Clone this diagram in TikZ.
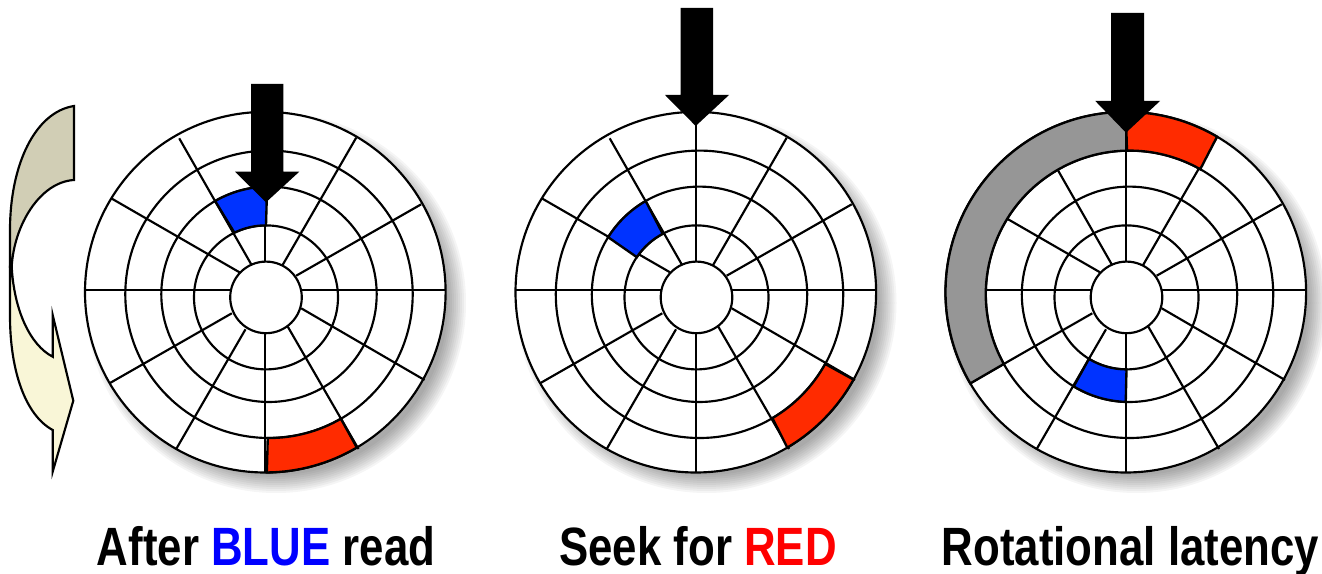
\documentclass[tikz,border=0pt]{standalone}
\usepackage{fontspec}
\setmainfont{Liberation Sans}
\usetikzlibrary{calc}
\definecolor{redsector}{HTML}{FF2B00}
\definecolor{bluesector}{HTML}{0033FF}
\definecolor{graysector}{HTML}{969696}
\definecolor{turnbeige}{HTML}{D1CEB5}
\definecolor{turncream}{HTML}{F9F6D7}

\begin{document}
\begin{tikzpicture}[x=0.02cm,y=-0.02cm,line width=0.043cm,line join=miter,
    sector/.style={draw,line width=0.047cm},
    headarrow/.style={fill=black,draw=none},
    caption/.style={anchor=base,xscale=0.812,font=\bfseries\fontsize{30.7}{36}\selectfont}]
  \useasboundingbox (0,0) rectangle (1322,574);

  \foreach \dx in {0,430.5,860.5}{
    \begin{scope}[shift={(\dx,0)}]
      \foreach \r in {190,188,...,172}
        \fill[black,opacity=0.04] (276,303) circle[radius=\r];
      \draw[fill=white] (265.3,292.2) circle[radius=180.3];
      \draw (269,294.3) circle[radius=143.7];
      \draw (269,294.3) circle[radius=107.7];
      \draw (266,297.4) circle[radius=72];
      \draw[fill=white] (266,297.4) circle[radius=35.8];
      \draw (265.2,112)--(265.2,262);
      \draw (179.2,138.3)--(251.2,264.3);
      \draw (111.2,198.3)--(239.5,272.3);
      \draw (356.2,137.7)--(282.2,265.7);
      \draw (421.2,204.3)--(296.2,275.7);
      \draw (84.5,290)--(230.5,290);
      \draw (301.8,290)--(445.2,290);
      \draw (301.2,308.3)--(424.5,380);
      \draw (287.8,326.7)--(358.5,449);
      \draw (265.2,333.3)--(265.2,472.3);
      \draw (245.5,329.3)--(176.2,449);
      \draw (231.8,313.3)--(109.5,383.3);
    \end{scope}
  }

  % first disk
  \draw[sector,fill=bluesector] (269,294.3) ++(-120:107.7) arc[start angle=-120,end angle=-91,radius=107.7] -- ($(266,297.4)+(-90:72)$) arc[start angle=-90,end angle=-116,radius=72] -- cycle;
  \draw[sector,fill=redsector] (269,294.3) ++(90.5:143.7) arc[start angle=90.5,end angle=60,radius=143.7] -- ($(265.3,292.2)+(59.5:180.3)$) arc[start angle=59.5,end angle=89.5,radius=180.3] -- cycle;
  \fill[headarrow] (251,84)--(283.3,84)--(283.3,171.7)--(299.3,171.7)--(266,202.3)--(235,171.7)--(251,171.7)--cycle;

  % second disk
  \begin{scope}[shift={(430.5,0)}]
    \draw[sector,fill=bluesector] (269,294.3) ++(-120:107.7) arc[start angle=-120,end angle=-148,radius=107.7] -- ($(266,297.4)+(-146:72)$) arc[start angle=-146,end angle=-118,radius=72] -- cycle;
    \draw[sector,fill=redsector] (269,294.3) ++(29:143.7) arc[start angle=29,end angle=59.5,radius=143.7] -- ($(265.3,292.2)+(59.5:180.3)$) arc[start angle=59.5,end angle=29,radius=180.3] -- cycle;
    \fill[headarrow] (250,8)--(282.5,8)--(282.5,95)--(298.5,95)--(265.2,126)--(234.5,95)--(250,95)--cycle;
  \end{scope}

  % third disk
  \begin{scope}[shift={(860.5,0)}]
    \draw[sector,fill=graysector] (265.3,292.2) ++(-90:180.3) arc[start angle=-90,end angle=-210.4,radius=180.3] -- ($(269,294.3)+(-209:143.7)$) arc[start angle=-209,end angle=-91,radius=143.7] -- cycle;
    \draw[sector,fill=redsector] (265.3,292.2) ++(-90:180.3) arc[start angle=-90,end angle=-59.6,radius=180.3] -- ($(269,294.3)+(-60.5:143.7)$) arc[start angle=-60.5,end angle=-91,radius=143.7] -- cycle;
    \draw[sector,fill=bluesector] (266,297.4) ++(121.4:72) arc[start angle=121.4,end angle=90,radius=72] -- ($(269,294.3)+(92:107.7)$) arc[start angle=92,end angle=121.2,radius=107.7] -- cycle;
    \draw (265.2,132)--(265.2,150);
    \fill[headarrow] (250.5,13)--(283.5,13)--(283.5,101)--(299.5,101)--(265.5,132.7)--(234.8,101)--(250.5,101)--cycle;
  \end{scope}

  % turning arrow
  \draw[fill=turnbeige] (74,106) .. controls (35,112) and (10,165) .. (10,230) -- (10,266.7) -- (11.7,266.7) .. controls (14,225) and (40,182) .. (74,180) -- cycle;
  \draw[fill=turncream] (11.7,266.7) .. controls (14,310) and (30,345) .. (52.7,356.7) -- (52.7,315) -- (73.3,400.7) -- (52.7,471.7) -- (52.7,430) .. controls (25,415) and (10,370) .. (10,316) -- (10,266.7) -- cycle;

  \node[caption] (afterblue) at (266,565) {After {\color{blue}BLUE} read};
  \node[caption] (seekred) at (698,565) {Seek for {\color{red}RED}};
  \node[caption] (latency) at (1130.5,565) {Rotational latency};
\end{tikzpicture}
\end{document}
